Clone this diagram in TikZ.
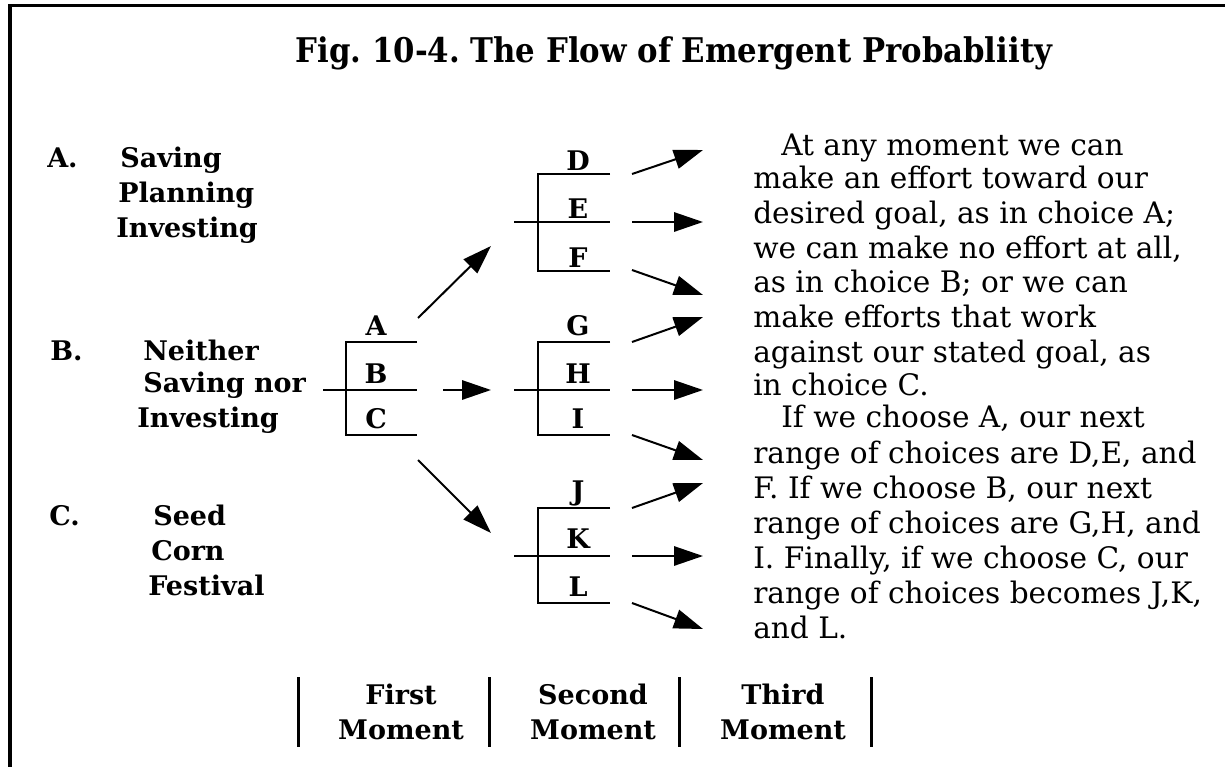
\documentclass[tikz,border=0pt]{standalone}
\usepackage{fontspec}
\setmainfont{DejaVu Serif}
\newfontfamily\titlefont{DejaVu Serif}[FakeStretch=0.905]
\usetikzlibrary{arrows.meta}
\frenchspacing
\tikzset{
  ttl/.style={font=\fontsize{25.5}{30}\selectfont\titlefont\bfseries, inner sep=0pt, anchor=base},
  lbl/.style={font=\fontsize{20.25}{24}\selectfont\bfseries, inner sep=0pt, anchor=base west},
  tl/.style={font=\fontsize{20.25}{24}\selectfont\bfseries, inner sep=0pt, anchor=base},
  body/.style={font=\fontsize{22.2}{26}\selectfont, inner sep=0pt, anchor=base west},
  brk/.style={line width=1.5pt},
  arr/.style={line width=1.5pt, -{Triangle[length=21.75pt,width=14.5pt]}},
  bar/.style={line width=2.25pt},
  frame/.style={line width=2.4pt}
}
\begin{document}
\begin{tikzpicture}[x=0.75pt,y=-0.75pt]
\useasboundingbox (0,0) rectangle (1225,767);
\coordinate (fb) at (10,770);
\coordinate (fc) at (10,5.5);
\coordinate (fr) at (1230,5.5);
\draw[frame] (fb) -- (fc) -- (fr);
\node[ttl] (title) at (674,63) {Fig. 10-4. The Flow of Emergent Probabliity};
% left labels
\node[lbl] (la) at (47,167) {A.};
\node[lbl] (la1) at (120,167) {Saving};
\node[lbl] (la2) at (118,202) {Planning};
\node[lbl] (la3) at (116,237) {Investing};
\node[lbl] (lb) at (50,360) {B.};
\node[lbl] (lb1) at (143,360) {Neither};
\node[lbl] (lb2) at (143,392) {Saving nor};
\node[lbl] (lb3) at (137,427) {Investing};
\node[lbl] (lc) at (49,525) {C.};
\node[lbl] (lc1) at (153,525) {Seed};
\node[lbl] (lc2) at (151,560) {Corn};
\node[lbl] (lc3) at (148,595) {Festival};
% brackets
\foreach \n/\vx/\t/\m/\b/\l/\r in {abc/346/342/390/435/323/417, def/538/174/222/271/514/610, ghi/538/342/390/435/514/610, jkl/538/508/556/603/514/610}{
  \draw[brk] (\r,\t) -- (\vx,\t) -- (\vx,\b) -- (\r,\b);
  \draw[brk] (\l,\m) -- (\r,\m);
}
% tree letters
\node[tl] (nA) at (376,335) {A};
\node[tl] (nB) at (376,383) {B};
\node[tl] (nC) at (376,428) {C};
\node[tl] (nD) at (578,170) {D};
\node[tl] (nE) at (578,218) {E};
\node[tl] (nF) at (578,267) {F};
\node[tl] (nG) at (578,335) {G};
\node[tl] (nH) at (578,383) {H};
\node[tl] (nI) at (578,428) {I};
\node[tl] (nJ) at (578,500) {J};
\node[tl] (nK) at (578,548) {K};
\node[tl] (nL) at (578,596) {L};
% arrow coordinates
\coordinate (sA) at (418,318); \coordinate (eA) at (491,246);
\coordinate (sB) at (443,390); \coordinate (eB) at (491,390);
\coordinate (sC) at (418,460); \coordinate (eC) at (491,533);
\draw[arr] (sA) -- (eA);
\draw[arr] (sB) -- (eB);
\draw[arr] (sC) -- (eC);
\foreach \n/\ys/\ye in {D/174/150, E/222/222, F/270/295, G/342/317, H/390/390, I/435/460, J/508/483, K/556/556, L/603/629}{
  \coordinate (s\n) at (632,\ys);
  \coordinate (e\n) at (703,\ye);
  \draw[arr] (s\n) -- (e\n);
}
% body text
\node[body] (t1) at (781,155) {At any moment we can};
\node[body] (t2) at (753,188) {make an effort toward our};
\node[body] (t3) at (753,223) {desired goal, as in choice A;};
\node[body] (t4) at (753,258) {we can make no effort at all,};
\node[body] (t5) at (753,292) {as in choice B; or we can};
\node[body] (t6) at (753,327) {make efforts that work};
\node[body] (t7) at (753,362) {against our stated goal, as};
\node[body] (t8) at (753,395) {in choice C.};
\node[body] (t9) at (781,427) {If we choose A, our next};
\node[body] (t10) at (753,463) {range of choices are D,E, and};
\node[body] (t11) at (753,498) {F. If we choose B, our next};
\node[body] (t12) at (753,533) {range of choices are G,H, and};
\node[body] (t13) at (753,568) {I. Finally, if we choose C, our};
\node[body] (t14) at (753,603) {range of choices becomes J,K,};
\node[body] (t15) at (753,638) {and L.};
% bottom
\foreach \x/\n in {298/b1, 489/b2, 679/b3, 871/b4}{
  \coordinate (\n t) at (\x,677);
  \coordinate (\n b) at (\x,747);
  \draw[bar] (\n t) -- (\n b);
}
\node[tl] (m1a) at (401,704) {First};
\node[tl] (m1b) at (401,739) {Moment};
\node[tl] (m2a) at (593,704) {Second};
\node[tl] (m2b) at (593,739) {Moment};
\node[tl] (m3a) at (783,704) {Third};
\node[tl] (m3b) at (783,739) {Moment};
\end{tikzpicture}
\end{document}
